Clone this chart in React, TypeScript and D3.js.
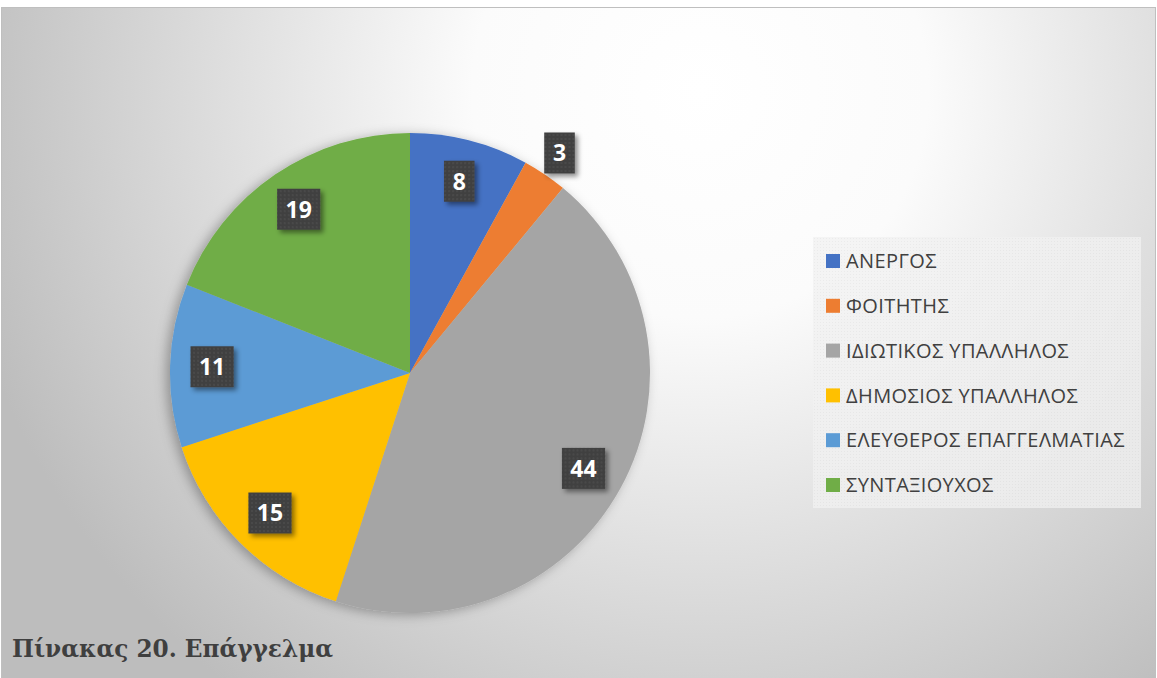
import React, { useRef, useEffect } from 'react';
import * as d3 from 'd3';

// Occupation breakdown (percent)
const categories = [
  'ΑΝΕΡΓΟΣ',
  'ΦΟΙΤΗΤΗΣ',
  'ΙΔΙΩΤΙΚΟΣ ΥΠΑΛΛΗΛΟΣ',
  'ΔΗΜΟΣΙΟΣ ΥΠΑΛΛΗΛΟΣ',
  'ΕΛΕΥΘΕΡΟΣ ΕΠΑΓΓΕΛΜΑΤΙΑΣ',
  'ΣΥΝΤΑΞΙΟΥΧΟΣ',
];
const values = [8, 3, 44, 15, 11, 19];
const colours = ['#4472C4', '#ED7D31', '#A5A5A5', '#FFC000', '#5B9BD5', '#70AD47'];
const title = 'Πίνακας 20. Επάγγελμα';

const W = 1157;
const H = 678;

const App: React.FC = () => {
  const svgRef = useRef<SVGSVGElement | null>(null);

  useEffect(() => {
    if (!svgRef.current) return;
    const svg = d3.select(svgRef.current);
    svg.selectAll('*').remove();

    const defs = svg.append('defs');

    // background radial gradient (white top-centre → grey edges)
    const bg = defs.append('radialGradient').attr('id', 'bgGrad')
      .attr('gradientUnits', 'userSpaceOnUse')
      .attr('cx', 700).attr('cy', 90).attr('r', 760);
    bg.append('stop').attr('offset', '0%').attr('stop-color', '#ffffff');
    bg.append('stop').attr('offset', '30%').attr('stop-color', '#fbfbfb');
    bg.append('stop').attr('offset', '100%').attr('stop-color', '#bdbdbd');

    const pieShadow = defs.append('filter').attr('id', 'pieShadow')
      .attr('x', '-20%').attr('y', '-20%').attr('width', '140%').attr('height', '140%');
    pieShadow.append('feDropShadow').attr('dx', -4).attr('dy', 2).attr('stdDeviation', 6)
      .attr('flood-color', '#000').attr('flood-opacity', 0.3);

    const boxShadow = defs.append('filter').attr('id', 'boxShadow')
      .attr('x', '-40%').attr('y', '-40%').attr('width', '180%').attr('height', '180%');
    boxShadow.append('feDropShadow').attr('dx', 3).attr('dy', 3).attr('stdDeviation', 2.5)
      .attr('flood-color', '#000').attr('flood-opacity', 0.45);

    const dots = defs.append('pattern').attr('id', 'dots')
      .attr('patternUnits', 'userSpaceOnUse').attr('width', 4).attr('height', 4);
    dots.append('rect').attr('width', 4).attr('height', 4).attr('fill', '#404040');
    dots.append('circle').attr('cx', 2).attr('cy', 2).attr('r', 0.7).attr('fill', '#5a5a5a');

    const legDots = defs.append('pattern').attr('id', 'legDots')
      .attr('patternUnits', 'userSpaceOnUse').attr('width', 3).attr('height', 3);
    legDots.append('rect').attr('width', 3).attr('height', 3).attr('fill', '#f1f1f1');
    legDots.append('circle').attr('cx', 1.5).attr('cy', 1.5).attr('r', 0.5).attr('fill', '#e2e2e2');

    // chart area
    svg.append('rect').attr('x', 1.5).attr('y', 7.5).attr('width', W - 3).attr('height', H)
      .attr('fill', 'url(#bgGrad)').attr('stroke', '#bfbfbf').attr('stroke-width', 1);

    // pie
    const cx = 410, cy = 373, r = 240;
    const pie = d3.pie<number>().sort(null).value(d => d);
    const arcs = pie(values);
    const arc = d3.arc<d3.PieArcDatum<number>>().innerRadius(0).outerRadius(r);
    const total = d3.sum(values);

    const g = svg.append('g').attr('transform', `translate(${cx},${cy})`);
    g.append('g').attr('filter', 'url(#pieShadow)')
      .selectAll('path').data(arcs).enter().append('path')
      .attr('d', arc)
      .attr('fill', (_, i) => colours[i]);

    // data labels
    const lblIn = d3.arc<d3.PieArcDatum<number>>().innerRadius(r * 0.825).outerRadius(r * 0.825);
    const lblOut = d3.arc<d3.PieArcDatum<number>>().innerRadius(r + 26).outerRadius(r + 26);
    const lbl = g.selectAll('g.lbl').data(arcs).enter().append('g')
      .attr('transform', d => {
        const [x, y] = (d.data / total < 0.05 ? lblOut : lblIn).centroid(d);
        return `translate(${x},${y})`;
      });
    lbl.append('rect')
      .attr('x', d => -(String(d.data).length * 12.6 + 18) / 2)
      .attr('y', -20.5)
      .attr('width', d => String(d.data).length * 12.6 + 18)
      .attr('height', 41)
      .attr('fill', 'url(#dots)')
      .attr('filter', 'url(#boxShadow)');
    lbl.append('text')
      .attr('text-anchor', 'middle').attr('dy', '0.36em')
      .attr('font-family', '"Open Sans", "Noto Sans", sans-serif')
      .attr('font-size', 23).attr('font-weight', 700)
      .attr('fill', '#ffffff')
      .text(d => d.data);

    // legend
    const lx = 813, ly = 237;
    svg.append('rect').attr('x', lx).attr('y', ly).attr('width', 328).attr('height', 271)
      .attr('fill', 'url(#legDots)').attr('opacity', 0.75);
    const row = d3.scalePoint<string>().domain(categories).range([261, 485]);
    const item = svg.selectAll('g.leg').data(categories).enter().append('g')
      .attr('transform', d => `translate(0,${row(d)})`);
    item.append('rect').attr('x', 826).attr('y', -7).attr('width', 14).attr('height', 14)
      .attr('fill', (_, i) => colours[i]);
    item.append('text').attr('x', 846).attr('dy', '0.36em')
      .attr('font-family', '"Open Sans", "Noto Sans", sans-serif')
      .attr('font-size', 20).attr('letter-spacing', 0.4).attr('fill', '#404040')
      .text(d => d);

    // caption
    svg.append('text').attr('x', 12).attr('y', 657)
      .attr('font-family', '"DejaVu Serif", "Liberation Serif", serif')
      .attr('font-weight', 700).attr('font-size', 25)
      .attr('textLength', 321).attr('lengthAdjust', 'spacingAndGlyphs')
      .attr('fill', '#3f3f3f')
      .text(title);
  }, []);

  return (
    <div style={{ position: 'fixed', left: 0, top: 0, width: W, height: H, overflow: 'hidden', background: '#fff' }}>
      <svg ref={svgRef} width={W} height={H} />
    </div>
  );
};

export default App;
